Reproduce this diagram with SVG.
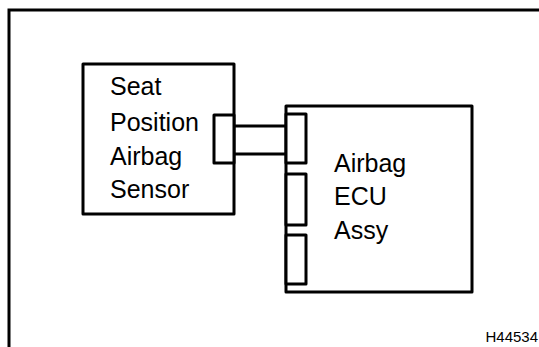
<svg xmlns="http://www.w3.org/2000/svg" width="539" height="347" viewBox="0 0 539 347">
<style>
.box{fill:#fff;stroke:#000;stroke-width:3;stroke-linejoin:round}
.ln{fill:none;stroke:#000;stroke-width:3}
.t{font-family:"Liberation Sans",Arial,sans-serif;font-size:25px;fill:#000}
.id{font-family:"Liberation Sans",Arial,sans-serif;font-size:15px;fill:#000}
</style>
<rect width="539" height="347" fill="#fff"/>
<path class="ln" d="M9,347 V10 H539" stroke-width="2.5"/>
<g id="connectors">
<line class="ln" x1="234" y1="126" x2="288" y2="126"/>
<line class="ln" x1="234" y1="154" x2="288" y2="154"/>
</g>
<g id="sensor">
<rect class="box" x="83" y="64" width="151" height="150"/>
<rect class="box" x="214" y="115" width="20" height="48"/>
<text class="t" x="110" y="95">Seat</text>
<text class="t" x="110" y="130.5">Position</text>
<text class="t" x="110" y="164.5">Airbag</text>
<text class="t" x="110" y="198">Sensor</text>
</g>
<g id="ecu">
<rect class="box" x="286" y="106" width="186" height="186"/>
<rect class="box" x="286" y="114" width="20" height="49"/>
<rect class="box" x="286" y="174" width="20" height="51"/>
<rect class="box" x="286" y="235" width="20" height="49"/>
<text class="t" x="334" y="171.5">Airbag</text>
<text class="t" x="334" y="205">ECU</text>
<text class="t" x="334" y="239">Assy</text>
</g>
<text class="id" x="538" y="341.5" text-anchor="end">H44534</text>
</svg>
